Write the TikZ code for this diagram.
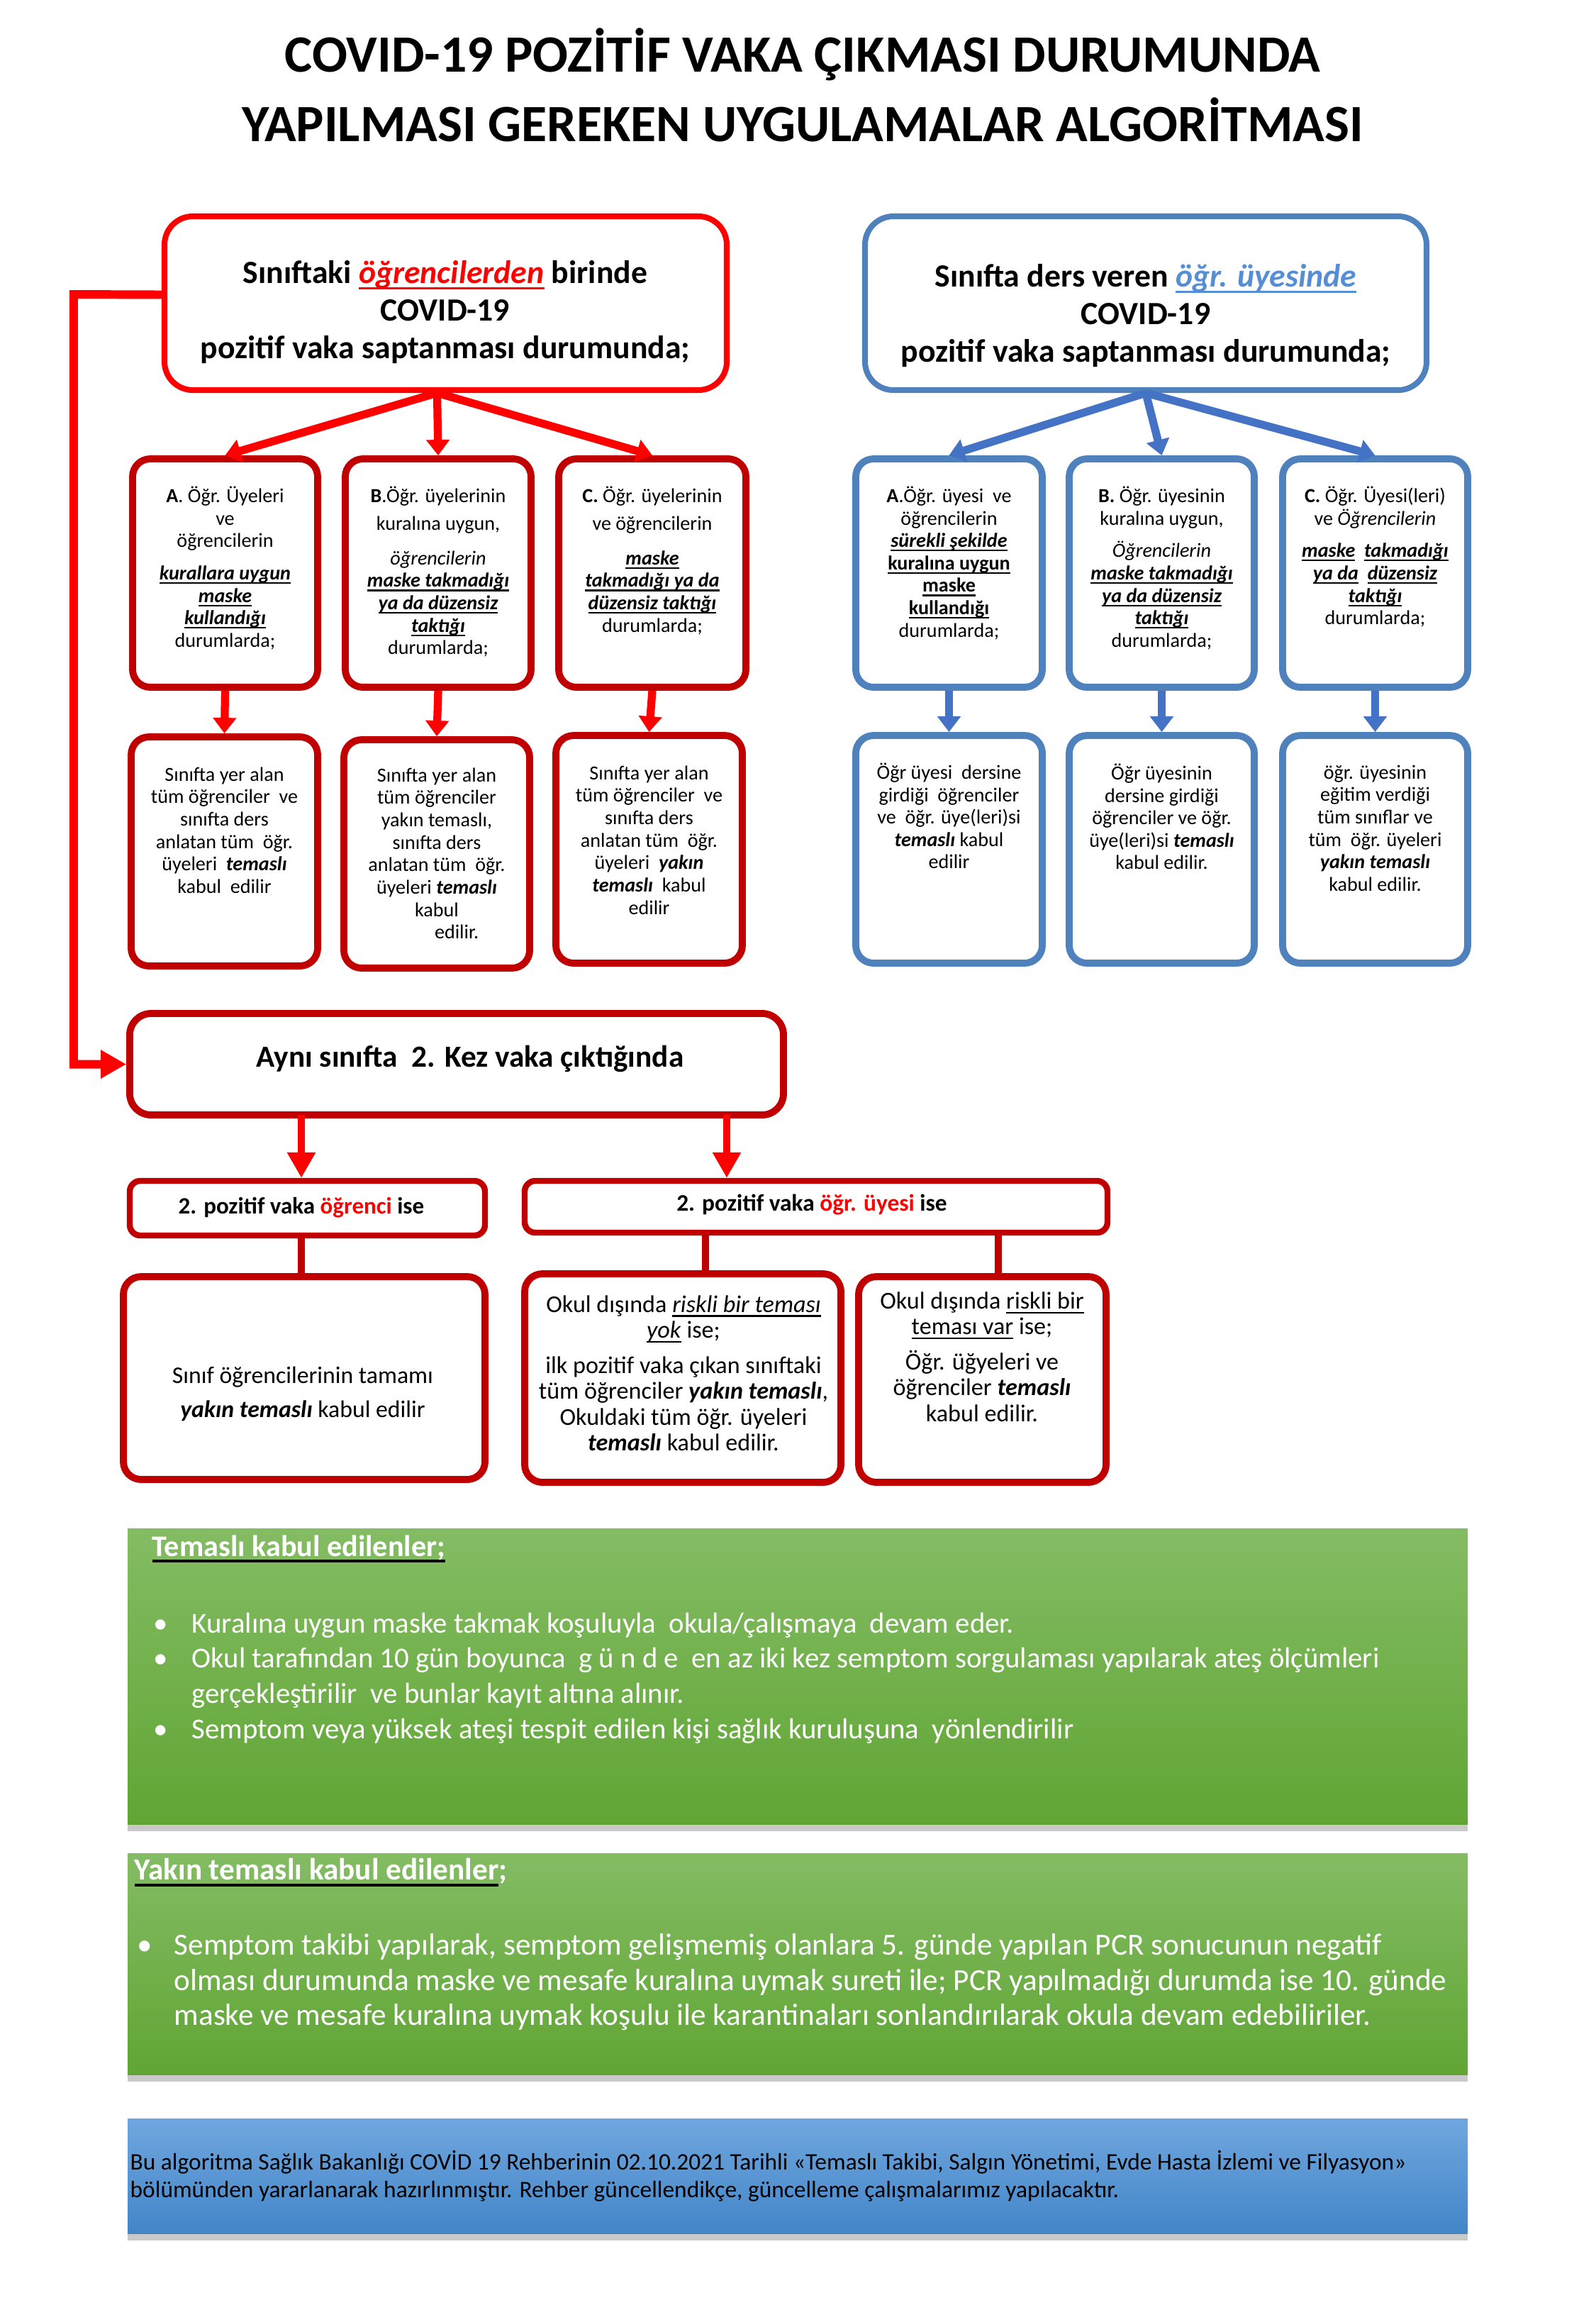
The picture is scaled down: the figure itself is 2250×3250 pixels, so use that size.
\documentclass[tikz,border=0pt]{standalone}
\usepackage{fontspec}
\setmainfont{Carlito}
\usepackage{graphicx}
\usetikzlibrary{arrows.meta,fit,calc,shadows}
\definecolor{rd}{RGB}{255,0,0}
\definecolor{drd}{RGB}{192,0,0}
\definecolor{bbox}{RGB}{79,129,189}
\definecolor{barr}{RGB}{68,114,196}
\definecolor{lblue}{RGB}{85,142,213}
\definecolor{gtop}{RGB}{132,188,100}
\definecolor{gbot}{RGB}{96,165,52}
\definecolor{btop}{RGB}{112,166,222}
\definecolor{bbot}{RGB}{66,134,200}
\newsavebox\ulbox
\newcommand\ul[1]{\sbox\ulbox{#1}\usebox\ulbox\llap{\rule[-0.2em]{\wd\ulbox}{0.075em}}}
\newcommand\kul[1]{\sbox\ulbox{#1}\usebox\ulbox\llap{\textcolor{black}{\rule[-0.2em]{\wd\ulbox}{0.09em}}}}
\newcommand\bi[1]{\textbf{\textit{#1}}}
\newcommand\bul[1]{{\bfseries\itshape\ul{#1}}}
\begin{document}
\begin{tikzpicture}[x=0.01cm,y=-0.01cm,
  bigred/.style={draw=rd, line width=2.3pt, rounded corners=0.4cm, inner sep=0pt},
  bigblue/.style={draw=bbox, line width=2.3pt, rounded corners=0.4cm, inner sep=0pt},
  sred/.style={draw=drd, line width=2.8pt, rounded corners=0.25cm, inner sep=0pt},
  sblue/.style={draw=bbox, line width=2.8pt, rounded corners=0.25cm, inner sep=0pt},
  pbox/.style={draw=drd, line width=2.4pt, rounded corners=0.15cm, inner sep=0pt},
  rarrow/.style={draw=rd, line width=3.2pt, -{Triangle[length=0.22cm,width=0.32cm]}},
  barrow/.style={draw=barr, line width=3.2pt, -{Triangle[length=0.22cm,width=0.32cm]}},
  rarrowb/.style={draw=rd, line width=3pt, -{Triangle[length=0.36cm,width=0.38cm]}},
  rline/.style={draw=drd, line width=2.6pt},
  sbt/.style={anchor=north, inner sep=0pt, align=center, font=\fontsize{8}{9}\selectfont},
  qt/.style={inner sep=0pt, align=center, font=\fontsize{9.7}{10.3}\selectfont},
  bigt/.style={inner sep=0pt, align=center, font=\fontsize{13}{15.2}\selectfont\bfseries},
  gbox/.style={top color=gtop, bottom color=gbot, draw=none, inner sep=0pt,
    drop shadow={shadow xshift=0pt, shadow yshift=-0.1cm, opacity=0.3, fill=black!70}},
  fbox/.style={top color=btop, bottom color=bbot, draw=none, inner sep=0pt,
    drop shadow={shadow xshift=0pt, shadow yshift=-0.1cm, opacity=0.3, fill=black!70}},
  wt/.style={text=white, inner sep=0pt, align=left}
]
\useasboundingbox (0,0) rectangle (2250,3250);

% title
\node[inner sep=0pt, align=center, font=\fontsize{21}{28}\selectfont\bfseries] (title) at (1132,120)
  {COVID-19 POZİTİF VAKA ÇIKMASI DURUMUNDA\\YAPILMASI GEREKEN UYGULAMALAR ALGORİTMASI};

% top boxes
\node[bigred, fit={(232,305)(1025,550)}] (TL) {};
\node[bigt] (TLt) at (628,440) {Sınıftaki \textcolor{rd}{\ul{\textit{öğrencilerden}}}\ birinde\\COVID-19\\pozitif vaka saptanması durumunda;};
\node[bigblue, fit={(1220,305)(2012,550)}] (TR) {};
\node[bigt] (TRt) at (1616,445) {Sınıfta ders veren \textcolor{lblue}{\ul{\textit{öğr. üyesinde}}}\\COVID-19\\pozitif vaka saptanması durumunda;};

% row 1
\node[sred, fit={(187,647)(448,969)}] (ra1) {};
\node[sred, fit={(487,647)(749,969)}] (rb1) {};
\node[sred, fit={(788,647)(1052,969)}] (rc1) {};
\node[sblue, fit={(1207,647)(1470,969)}] (ba1) {};
\node[sblue, fit={(1508,647)(1769,969)}] (bb1) {};
\node[sblue, fit={(1809,647)(2070,969)}] (bc1) {};

\node[sbt] (ra1t) at ($(ra1.north)+(0,43)$) {\textbf{A}. Öğr. Üyeleri\\ve\\öğrencilerin\\[4pt]\bul{kurallara uygun}\\ \bul{maske}\\ \bul{kullandığı}\\durumlarda;};
\node[sbt] (rb1t) at ($(rb1.north)+(0,43)$) {\textbf{B}.Öğr. üyelerinin\\[2pt]kuralına uygun,\\[5pt]\textit{öğrencilerin}\\ \bul{maske takmadığı}\\ \bul{ya da düzensiz}\\ \bul{taktığı}\\durumlarda;};
\node[sbt] (rc1t) at ($(rc1.north)+(0,43)$) {\textbf{C.} Öğr. üyelerinin\\[2pt]ve öğrencilerin\\[5pt]\bul{maske}\\ \bul{takmadığı ya da}\\ \bul{düzensiz taktığı}\\durumlarda;};
\node[sbt] (ba1t) at ($(ba1.north)+(0,43)$) {\textbf{A}.Öğr. üyesi\ \ ve\\öğrencilerin\\ \bul{sürekli şekilde}\\ {\bfseries\ul{kuralına uygun}}\\ {\bfseries\ul{maske}}\\ {\bfseries\ul{kullandığı}}\\durumlarda;};
\node[sbt] (bb1t) at ($(bb1.north)+(0,43)$) {\textbf{B.} Öğr. üyesinin\\kuralına uygun,\\[4pt]\textit{Öğrencilerin}\\ \bul{maske takmadığı}\\ \bul{ya da düzensiz}\\ \bul{taktığı}\\durumlarda;};
\node[sbt] (bc1t) at ($(bc1.north)+(0,43)$) {\textbf{C.} Öğr. Üyesi(leri)\\ve \textit{Öğrencilerin}\\[4pt]\bul{maske}\ \ \bul{takmadığı}\\ \bul{ya da}\ \ \bul{düzensiz}\\ \bul{taktığı}\\durumlarda;};

% row 2
\node[sred, fit={(185,1039)(448,1362)}] (ra2) {};
\node[sred, fit={(485,1043)(747,1365)}] (rb2) {};
\node[sred, fit={(784,1037)(1047,1358)}] (rc2) {};
\node[sblue, fit={(1207,1037)(1470,1358)}] (ba2) {};
\node[sblue, fit={(1508,1037)(1769,1358)}] (bb2) {};
\node[sblue, fit={(1809,1037)(2070,1358)}] (bc2) {};

\node[sbt] (ra2t) at ($(ra2.north)+(0,47)$) {Sınıfta yer alan\\tüm öğrenciler\ \ ve\\sınıfta ders\\anlatan tüm\ \ öğr.\\üyeleri\ \ \bi{temaslı}\\kabul\ \ edilir};
\node[sbt] (rb2t) at ($(rb2.north)+(0,44)$) {Sınıfta yer alan\\tüm öğrenciler\\yakın temaslı,\\sınıfta ders\\anlatan tüm\ \ öğr.\\üyeleri \bi{temaslı}\\kabul\\\hspace*{2em}edilir.};
\node[sbt] (rc2t) at ($(rc2.north)+(0,47)$) {Sınıfta yer alan\\tüm öğrenciler\ \ ve\\sınıfta ders\\anlatan tüm\ \ öğr.\\üyeleri\ \ \bi{yakın}\\\bi{temaslı}\ \ kabul\\edilir};
\node[sbt] (ba2t) at ($(ba2.north)+(0,43)$) {Öğr üyesi\ \ dersine\\girdiği\ \ öğrenciler\\ve\ \ öğr. üye(leri)si\\\bi{temaslı} kabul\\edilir};
\node[sbt] (bb2t) at ($(bb2.north)+(0,44)$) {Öğr üyesinin\\dersine girdiği\\öğrenciler ve öğr.\\üye(leri)si \bi{temaslı}\\kabul edilir.};
\node[sbt] (bc2t) at ($(bc2.north)+(0,46)$) {öğr. üyesinin\\eğitim verdiği\\tüm sınıflar ve\\tüm\ \ öğr. üyeleri\\\bi{yakın temaslı}\\kabul edilir.};

% fan arrows
\coordinate (TLo) at ($(TL.south)+(-12,0)$);
\draw[rarrow] (TLo) -- (ra1.north);
\draw[rarrow] (TLo) -- (rb1.north);
\draw[rarrow] (TLo) -- (rc1.north);
\draw[barrow] (TR.south) -- (ba1.north);
\draw[barrow] (TR.south) -- (bb1.north);
\draw[barrow] (TR.south) -- (bc1.north);
% row arrows
\draw[rarrow] (ra1.south) -- (ra2.north);
\draw[rarrow] (rb1.south) -- (rb2.north);
\draw[rarrow] (rc1.south) -- (rc2.north);
\draw[barrow] (ba1.south) -- (ba2.north);
\draw[barrow] (bb1.south) -- (bb2.north);
\draw[barrow] (bc1.south) -- (bc2.north);

% second case
\node[sred, rounded corners=0.3cm, fit={(183,1429)(1105,1572)}] (Ay) {};
\node[inner sep=0pt, font=\fontsize{12.3}{14}\selectfont\bfseries] (Ayt) at (663,1493) {Aynı sınıfta\ \ 2. Kez vaka çıktığında};
\draw[draw=rd, line width=3.4pt, -{Triangle[length=0.36cm,width=0.38cm]}] ($(TL.west)+(0,-12)$) -- (104,415) |- (Ay.west);

\node[pbox, fit={(183,1665)(684,1742)}] (P1) {};
\node[inner sep=0pt, font=\fontsize{9.4}{11}\selectfont\bfseries] (P1t) at (425,1703) {2. pozitif vaka \textcolor{rd}{öğrenci} ise};
\node[pbox, fit={(740,1665)(1562,1738)}] (P2) {};
\node[inner sep=0pt, font=\fontsize{9.5}{11}\selectfont\bfseries] (P2t) at (1145,1699) {2. pozitif vaka \textcolor{rd}{öğr. üyesi} ise};

\coordinate (a1s) at (425,1572);
\coordinate (a2s) at (1025,1572);
\draw[rarrowb] (a1s) -- (P1.north -| a1s);
\draw[rarrowb] (a2s) -- (P2.north -| a2s);

\node[sred, fit={(174,1800)(684,2086)}] (Q1) {};
\node[sred, fit={(740,1796)(1186,2090)}] (Q2) {};
\node[sred, fit={(1211,1800)(1560,2090)}] (Q3) {};
\coordinate (l1) at (425,1742);
\coordinate (l2) at (995,1738);
\coordinate (l3) at (1408,1738);
\draw[rline] (l1) -- (Q1.north -| l1);
\draw[rline] (l2) -- (Q2.north -| l2);
\draw[rline] (l3) -- (Q3.north -| l3);

\node[qt, font=\fontsize{9.6}{13.6}\selectfont] (Q1t) at (427,1965) {Sınıf öğrencilerinin tamamı\\\bi{yakın temaslı} kabul edilir};
\node[qt] (Q2t) at (964,1936) {Okul dışında \ul{\textit{riskli bir teması}}\\\ul{\textit{yok}} ise;\\[4pt]ilk pozitif vaka çıkan sınıftaki\\tüm öğrenciler \bi{yakın temaslı},\\Okuldaki tüm öğr. üyeleri\\\bi{temaslı} kabul edilir.};
\node[qt] (Q3t) at (1385,1913) {Okul dışında \ul{riskli bir}\\\ul{teması var} ise;\\[4pt]Öğr. üğyeleri ve\\öğrenciler \bi{temaslı}\\kabul edilir.};

% green boxes
\node[gbox, fit={(180,2155)(2070,2572)}] (G1) {};
\node[wt, anchor=west, font=\fontsize{12}{14}\selectfont\bfseries] (G1h) at (214,2184) {\kul{Temaslı kabul edilenler;}};
\node[wt, anchor=north west, font=\fontsize{11.6}{14.2}\selectfont] (G1b) at (216,2273)
 {\makebox[0.54cm][l]{\textbullet}Kuralına uygun maske takmak koşuluyla\ \ okula/çalışmaya\ \ devam eder.\\
  \makebox[0.54cm][l]{\textbullet}Okul tarafından 10 gün boyunca\ \ g ü n d e\ \ en az iki kez semptom sorgulaması yapılarak ateş ölçümleri\\
  \makebox[0.54cm][l]{}gerçekleştirilir\ \ ve bunlar kayıt altına alınır.\\
  \makebox[0.54cm][l]{\textbullet}Semptom\ veya\ yüksek\ ateşi\ tespit\ edilen\ kişi\ sağlık\ kuruluşuna\ \ yönlendirilir};

\node[gbox, fit={(180,2613)(2070,2925)}] (G2) {};
\node[wt, anchor=west, font=\fontsize{12.3}{14}\selectfont\bfseries] (G2h) at (189,2640) {\kul{Yakın temaslı kabul edilenler};};
\node[wt, anchor=north west, font=\fontsize{12.3}{14}\selectfont] (G2b) at (193,2726)
 {\makebox[0.52cm][l]{\textbullet}Semptom takibi yapılarak, semptom gelişmemiş olanlara 5. günde yapılan PCR sonucunun negatif\\
  \makebox[0.52cm][l]{}olması durumunda maske ve mesafe kuralına uymak sureti ile; PCR yapılmadığı durumda ise 10. günde\\
  \makebox[0.52cm][l]{}maske ve mesafe kuralına uymak koşulu ile karantinaları sonlandırılarak okula devam edebiliriler.};

% footer
\node[fbox, fit={(180,2987)(2070,3149)}] (F) {};
\node[inner sep=0pt, anchor=west, align=left, font=\fontsize{9.5}{11}\selectfont] (Ft) at (183,3068)
 {Bu algoritma Sağlık Bakanlığı COVİD 19 Rehberinin 02.10.2021 Tarihli «Temaslı Takibi, Salgın Yönetimi, Evde Hasta İzlemi ve Filyasyon»\\
  bölümünden yararlanarak hazırlınmıştır. Rehber güncellendikçe, güncelleme çalışmalarımız yapılacaktır.};
\end{tikzpicture}
\end{document}
